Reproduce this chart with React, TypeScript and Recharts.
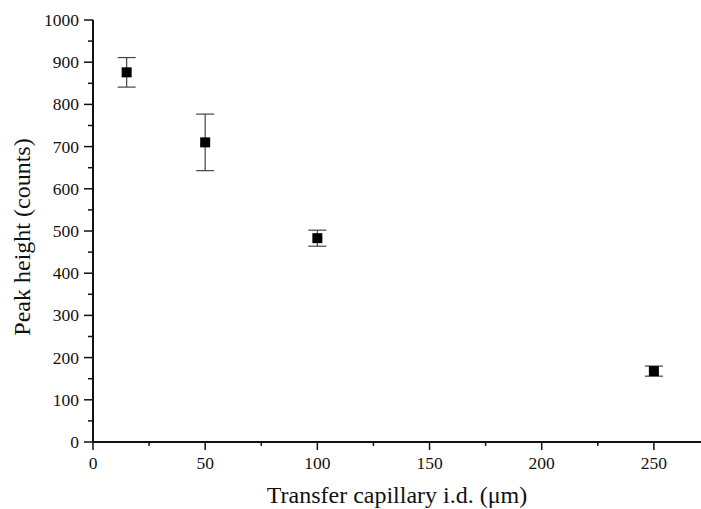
import React from 'react';
import { ScatterChart, Scatter, XAxis, YAxis, ErrorBar } from 'recharts';

const capillaryId = [15, 50, 100, 250];
const peakHeight = [876, 710, 483, 168];
const peakError = [35, 67, 19, 12];

const xTicks = [0, 25, 50, 75, 100, 125, 150, 175, 200, 225, 250];
const yTicks = [0, 50, 100, 150, 200, 250, 300, 350, 400, 450, 500, 550, 600, 650, 700, 750, 800, 850, 900, 950, 1000];

const data = capillaryId.map((x, i) => ({ x, y: peakHeight[i], err: peakError[i] }));

const FONT = '"Liberation Serif", "DejaVu Serif", serif';
const INK = '#111';

if (typeof document !== 'undefined') document.body.style.margin = '0';

const XTick = (props: any) => {
  const { x, y, payload } = props;
  const major = payload.value % 50 === 0;
  return (
    <g>
      <line x1={x} y1={y} x2={x} y2={y + (major ? 8 : 4)} stroke={INK} strokeWidth={1.5} />
      {major && (
        <text x={x} y={y + 27} textAnchor="middle" fontFamily={FONT} fontSize={17.5} fill={INK}>
          {payload.value}
        </text>
      )}
    </g>
  );
};

const YTick = (props: any) => {
  const { x, y, payload } = props;
  const major = payload.value % 100 === 0;
  return (
    <g>
      <line x1={x} y1={y} x2={x - (major ? 9 : 5)} y2={y} stroke={INK} strokeWidth={1.5} />
      {major && (
        <text x={x - 14} y={y + 6} textAnchor="end" fontFamily={FONT} fontSize={17.5} fill={INK}>
          {payload.value}
        </text>
      )}
    </g>
  );
};

const SquareDot = (props: any) => {
  const { cx, cy } = props;
  return <rect x={cx - 5} y={cy - 5} width={10} height={10} fill="#000" />;
};

const XLabel = (props: any) => {
  const { viewBox } = props;
  const cx = viewBox.x + viewBox.width / 2;
  return (
    <text x={cx} y={viewBox.y + 61} textAnchor="middle" fontFamily={FONT} fontSize={24} fill={INK}>
      Transfer capillary i.d. (μm)
    </text>
  );
};

const YLabel = (props: any) => {
  const { viewBox } = props;
  const cy = viewBox.y + viewBox.height / 2 + 6;
  const lx = 30;
  return (
    <text x={lx} y={cy} transform={`rotate(-90 ${lx} ${cy})`} textAnchor="middle" fontFamily={FONT} fontSize={24} fill={INK}>
      Peak height (counts)
    </text>
  );
};

export default function App() {
  return (
    <ScatterChart width={701} height={509} margin={{ top: 20, right: 0, bottom: 0, left: 0 }}>
      <XAxis
        type="number"
        dataKey="x"
        domain={[0, 271]}
        ticks={xTicks}
        interval={0}
        height={67}
        tickSize={0}
        tickMargin={0}
        tickLine={false}
        tick={<XTick />}
        axisLine={{ stroke: INK, strokeWidth: 2 }}
        label={<XLabel />}
      />
      <YAxis
        type="number"
        dataKey="y"
        domain={[0, 1000]}
        ticks={yTicks}
        interval={0}
        width={93}
        tickSize={0}
        tickMargin={0}
        tickLine={false}
        tick={<YTick />}
        axisLine={{ stroke: INK, strokeWidth: 2 }}
        label={<YLabel />}
      />
      <Scatter data={data} shape={<SquareDot />} isAnimationActive={false}>
        <ErrorBar dataKey="err" direction="y" width={9} stroke="#444" strokeWidth={1.2} />
      </Scatter>
    </ScatterChart>
  );
}
